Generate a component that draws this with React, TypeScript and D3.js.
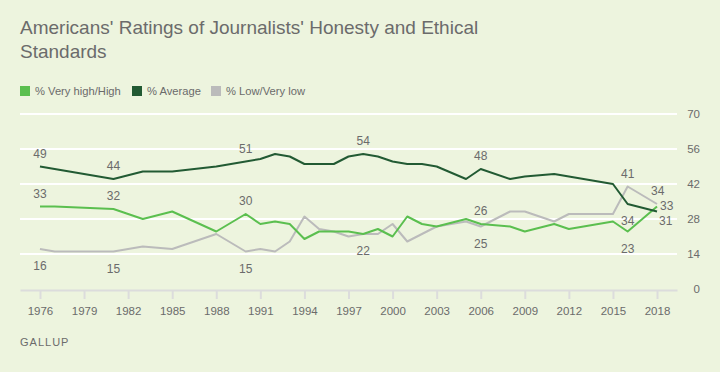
import * as d3 from 'd3';
import { useRef, useEffect } from 'react';

const years = [1976, 1977, 1981, 1983, 1985, 1988, 1990, 1991, 1992, 1993, 1994, 1995, 1996, 1997, 1998, 1999, 2000, 2001, 2002, 2003, 2005, 2006, 2008, 2009, 2011, 2012, 2015, 2016, 2018];
const veryHigh = [33, 33, 32, 28, 31, 23, 30, 26, 27, 26, 20, 23, 23, 23, 22, 24, 21, 29, 26, 25, 28, 26, 25, 23, 26, 24, 27, 23, 33];
const average = [49, 48, 44, 47, 47, 49, 51, 52, 54, 53, 50, 50, 50, 53, 54, 53, 51, 50, 50, 49, 44, 48, 44, 45, 46, 45, 42, 34, 31];
const lowVeryLow = [16, 15, 15, 17, 16, 22, 15, 16, 15, 19, 29, 24, 23, 21, 22, 22, 26, 19, 22, 25, 27, 25, 31, 31, 27, 30, 30, 41, 34];

const xTicks = [1976, 1979, 1982, 1985, 1988, 1991, 1994, 1997, 2000, 2003, 2006, 2009, 2012, 2015, 2018];
const yTicks = [0, 14, 28, 42, 56, 70];

const seriesNames = ['% Very high/High', '% Average', '% Low/Very low'];
const seriesColors = ['#5bbf4f', '#225a33', '#bbbbbb'];

// [series index (0 high, 1 average, 2 low), year, position]
const labelled = [
  [1, 1976, 'above'], [1, 1981, 'above'], [1, 1990, 'above'], [1, 1998, 'above'], [1, 2006, 'above'], [1, 2016, 'below'], [1, 2018, 'belowRight'],
  [0, 1976, 'above'], [0, 1981, 'above'], [0, 1990, 'above'], [0, 1998, 'below'], [0, 2006, 'above'], [0, 2016, 'below'], [0, 2018, 'right'],
  [2, 1976, 'below'], [2, 1981, 'below'], [2, 1990, 'below'], [2, 2006, 'below'], [2, 2016, 'above'], [2, 2018, 'aboveRight'],
];

const App = () => {
  const svgRef = useRef();

  useEffect(() => {
    const svg = d3.select(svgRef.current);
    const width = 720;
    const height = 372;
    const font = '"Liberation Sans", Arial, sans-serif';
    const textColor = '#6b6b6b';

    svg.selectAll('*').remove();

    svg.append('rect').attr('width', width).attr('height', height).attr('fill', '#edf4de');

    const x = d3.scaleLinear().domain([1974.64, 2019.36]).range([20, 677]);
    const y = d3.scaleLinear().domain([0, 70]).range([289, 114]);

    // title
    svg.append('text').attr('x', 20).attr('y', 34)
      .style('font-family', font).style('font-size', '19px').attr('fill', textColor)
      .text("Americans' Ratings of Journalists' Honesty and Ethical");
    svg.append('text').attr('x', 20).attr('y', 58)
      .style('font-family', font).style('font-size', '19px').attr('fill', textColor)
      .text('Standards');

    // legend
    const legendX = [20, 132, 211];
    const legend = svg.append('g');
    seriesNames.forEach((name, i) => {
      legend.append('rect').attr('x', legendX[i]).attr('y', 86).attr('width', 10).attr('height', 10).attr('fill', seriesColors[i]);
      legend.append('text').attr('x', legendX[i] + 15).attr('y', 95)
        .style('font-family', font).style('font-size', '11.2px').attr('fill', textColor).text(name);
    });

    // grid
    svg.append('g').selectAll('line')
      .data(yTicks.filter(d => d > 0))
      .enter().append('line')
      .attr('x1', 20).attr('x2', 677)
      .attr('y1', d => y(d)).attr('y2', d => y(d))
      .attr('stroke', '#ffffff').attr('stroke-width', 2);

    const yAxisG = svg.append('g')
      .attr('transform', 'translate(700,0)')
      .call(d3.axisRight(y).tickValues(yTicks).tickSize(0).tickPadding(0));
    yAxisG.select('.domain').remove();
    yAxisG.selectAll('text')
      .attr('text-anchor', 'end')
      .attr('x', 0)
      .style('font-family', font).style('font-size', '11.5px').attr('fill', textColor);

    const xAxisG = svg.append('g')
      .attr('transform', 'translate(0,290)')
      .call(d3.axisBottom(x).tickValues(xTicks).tickFormat(d3.format('d')).tickSize(9).tickSizeOuter(0).tickPadding(8));
    xAxisG.select('.domain').attr('stroke', '#dcdcdc').attr('stroke-width', 2);
    xAxisG.selectAll('.tick line').attr('stroke', '#dcdcdc').attr('stroke-width', 2);
    xAxisG.selectAll('text')
      .style('font-family', font).style('font-size', '11.5px').attr('fill', textColor);

    // lines
    const data = [veryHigh, average, lowVeryLow];
    const line = d3.line()
      .x((d, i) => x(years[i]))
      .y(d => y(d));
    [2, 0, 1].forEach(s => {
      svg.append('path')
        .datum(data[s])
        .attr('d', line)
        .attr('fill', 'none')
        .attr('stroke', seriesColors[s])
        .attr('stroke-width', 2)
        .attr('stroke-linejoin', 'round');
    });

    // value labels
    const offsets = {
      above: [0, -9],
      below: [0, 21],
      right: [3, 3],
      belowRight: [2, 13],
      aboveRight: [-6, -9.5],
    };
    svg.append('g').selectAll('text')
      .data(labelled)
      .enter().append('text')
      .attr('x', d => x(d[1]) + offsets[d[2]][0])
      .attr('y', d => y(data[d[0]][years.indexOf(d[1])]) + offsets[d[2]][1])
      .attr('text-anchor', d => (d[2] === 'above' || d[2] === 'below') ? 'middle' : 'start')
      .style('font-family', font).style('font-size', '12px').attr('fill', textColor)
      .text(d => data[d[0]][years.indexOf(d[1])]);

    svg.append('text').attr('x', 20).attr('y', 346)
      .style('font-family', font).style('font-size', '11px').style('letter-spacing', '1px')
      .attr('fill', textColor).text('GALLUP');
  }, []);

  return <svg ref={svgRef} width={720} height={372} style={{ display: 'block', position: 'absolute', left: 0, top: 0 }}></svg>;
};

export default App;
